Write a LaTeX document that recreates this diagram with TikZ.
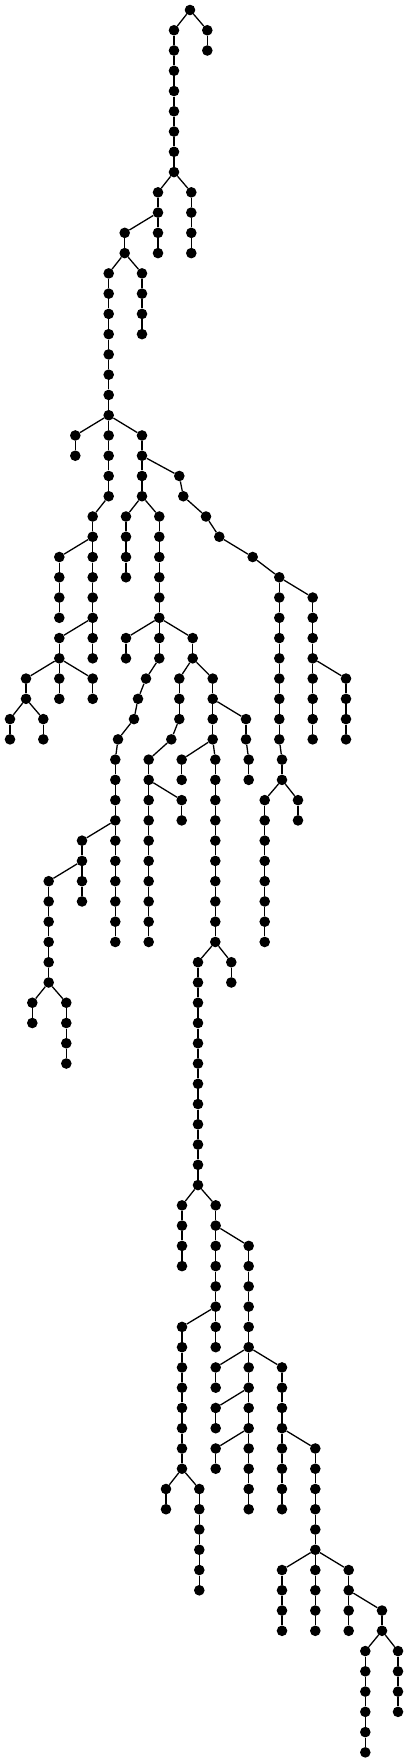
\documentclass[tikz,border=0pt]{standalone}
\usetikzlibrary{backgrounds}
\tikzset{
  dot/.style={circle,fill=black,draw=none,inner sep=0pt,minimum size=10.6pt},
  edge/.style={line width=1.3pt,black}
}
% #1 name prefix, #2 x, #3 first level, #4 last level, #5 parent node
\newcommand{\chainof}[5]{%
  \foreach \kk in {#3,...,#4}{\node[dot] (#1-\kk) at (#2,\kk) {};}%
  \draw[edge] (#5) -- (#1-#3);%
  \ifnum#4>#3\relax
    \pgfmathtruncatemacro{\kstart}{#3+1}%
    \foreach \kk [evaluate=\kk as \pp using int(\kk-1)] in {\kstart,...,#4}{\draw[edge] (#1-\pp) -- (#1-\kk);}%
  \fi}
\newcommand{\single}[4]{% #1 name, #2 x, #3 level, #4 parent
  \node[dot] (#1) at (#2,#3) {};\draw[edge] (#4) -- (#1);}
\begin{document}
\begin{tikzpicture}[x=1pt,y=-20.26pt]
\fill[white] (0pt,10pt) rectangle (408pt,-1753pt);
\useasboundingbox (0pt,10pt) rectangle (408pt,-1753pt);
\node[dot] (r) at (190,0) {};
\chainof{b}{207.3}{1}{2}{r}
\chainof{m}{174}{1}{8}{r}
\chainof{q}{191.3}{9}{12}{m-8}
\chainof{p}{158}{9}{12}{m-8}
\chainof{s}{124.7}{11}{12}{p-10}
\chainof{v}{142}{13}{16}{s-12}
\chainof{u}{108.7}{13}{24}{s-12}
\chainof{w}{75.3}{21}{22}{u-20}
\chainof{y}{142}{21}{24}{u-20}
% right diagonal branch
\single{z23}{179.3}{23}{y-22}
\single{z24}{183.3}{24}{z23}
\single{z25}{206}{25}{z24}
\single{z26}{219.3}{26}{z25}
\single{z27}{252.7}{27}{z26}
\single{z28}{279.3}{28}{z27}
\chainof{Zk}{279.3}{29}{36}{z28}
\chainof{Zl}{282}{37}{38}{Zk-36}
\chainof{Zm}{264.7}{39}{46}{Zl-38}
\chainof{Zn}{298}{39}{40}{Zl-38}
\chainof{Zo}{312.7}{29}{36}{z28}
\chainof{Zp}{346}{33}{36}{Zo-32}
% left branch
\chainof{X}{92.7}{25}{32}{u-24}
\chainof{Xa}{59.3}{27}{30}{X-26}
\chainof{Xc}{59.3}{31}{34}{X-30}
\chainof{Xd}{26}{33}{34}{Xc-32}
\chainof{Xe}{92.7}{33}{34}{Xc-32}
\chainof{Xf}{10}{35}{36}{Xd-34}
\chainof{Xg}{43.3}{35}{36}{Xd-34}
% middle branch
\chainof{Ya}{126}{25}{28}{y-24}
\chainof{Yb}{159.3}{25}{32}{y-24}
\chainof{Yc}{126}{31}{32}{Yb-30}
\single{d33}{146}{33}{Yb-32}
\single{d34}{138}{34}{d33}
\single{d35}{134}{35}{d34}
\single{d36}{118}{36}{d35}
\chainof{Yd}{115.3}{37}{46}{d36}
\chainof{Ye}{82}{41}{44}{Yd-40}
\chainof{Yf}{48.7}{43}{48}{Ye-42}
\chainof{Yg}{32.3}{49}{50}{Yf-48}
\chainof{Yh}{66.3}{49}{52}{Yf-48}
\chainof{Yi}{192.7}{31}{32}{Yb-30}
\chainof{Yj}{179.3}{33}{35}{Yi-32}
\single{e36}{171.3}{36}{Yj-35}
\chainof{Yk}{148.7}{37}{46}{e36}
\chainof{Yl}{181.7}{39}{40}{Yk-38}
\chainof{Ym}{212.7}{33}{36}{Yi-32}
\chainof{Yn}{246}{35}{36}{Ym-34}
\chainof{Yo}{248.7}{37}{38}{Yn-36}
\chainof{Yp}{181.7}{37}{38}{Ym-36}
\chainof{Yq}{215.3}{37}{46}{Ym-36}
\chainof{Yr}{231.3}{47}{48}{Yq-46}
\chainof{Ys}{198}{47}{58}{Yq-46}
\chainof{Yt}{182}{59}{62}{Ys-58}
\chainof{Yu}{215.7}{59}{66}{Ys-58}
\chainof{Yv}{248.7}{61}{74}{Yu-60}
\chainof{Yw}{182}{65}{72}{Yu-64}
\chainof{Yx}{166}{73}{74}{Yw-72}
\chainof{Yy}{199.3}{73}{78}{Yw-72}
\chainof{Yz}{215.7}{67}{68}{Yv-66}
\chainof{Za}{215.7}{69}{70}{Yv-68}
\chainof{Zb}{215.7}{71}{72}{Yv-70}
\chainof{Zc}{282}{67}{74}{Yv-66}
\chainof{Zd}{315.3}{71}{76}{Zc-70}
\chainof{Ze}{282}{77}{80}{Zd-76}
\chainof{Zf}{315.3}{77}{80}{Zd-76}
\chainof{Zg}{348.7}{77}{80}{Zd-76}
\chainof{Zh}{382}{79}{80}{Zg-78}
\chainof{Zi}{365.3}{81}{86}{Zh-80}
\chainof{Zj}{398}{81}{84}{Zh-80}
\end{tikzpicture}
\end{document}
